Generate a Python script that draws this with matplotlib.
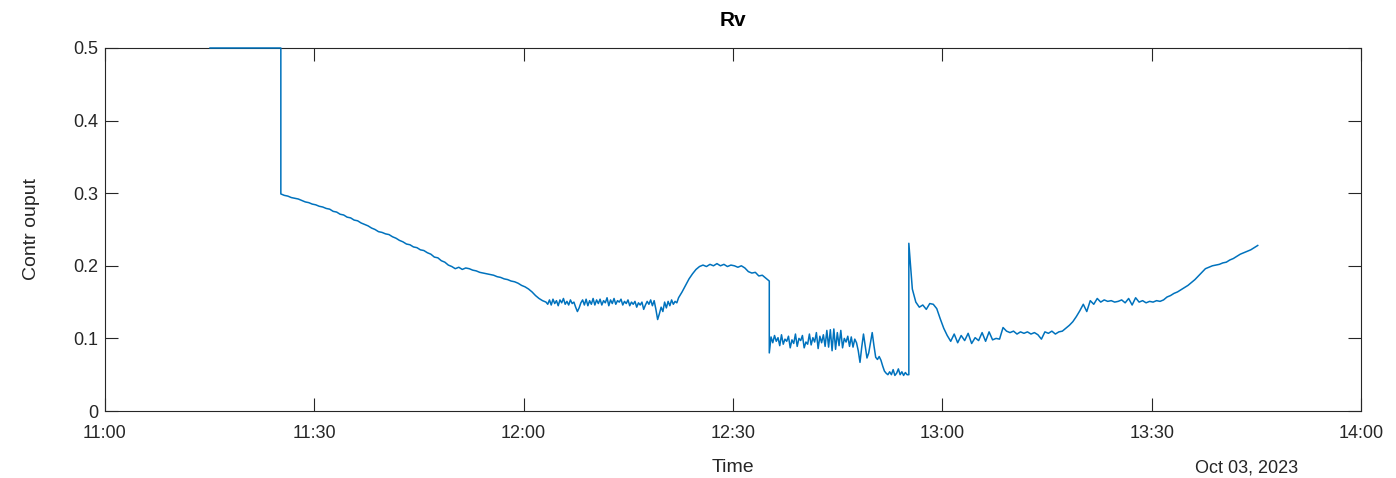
#!/usr/bin/env python3
"""Rv controller output on Oct 03, 2023 (MATLAB-style time plot)."""

import matplotlib

matplotlib.use("Agg")
import matplotlib.dates as mdates
import matplotlib.pyplot as plt
import pandas as pd

DAY = pd.Timestamp("2023-10-03 11:00")

# saturated part at the top of the axis (minutes after 11:00)
hold_min = [15.05, 25.2]
hold_val = [0.5, 0.5]

# slow decline after the step down, 0.5 min samples
seg_b1_start, seg_b1_step = 25.2, 0.5
seg_b1_val = [
    0.299, 0.297, 0.296, 0.294, 0.293, 0.292, 0.290, 0.288, 0.287, 0.285,
    0.284, 0.282, 0.281, 0.279, 0.278, 0.275, 0.274, 0.271, 0.270, 0.267,
    0.266, 0.263, 0.262, 0.259, 0.257, 0.255, 0.252, 0.250, 0.247, 0.246,
    0.244, 0.243, 0.240, 0.238, 0.235, 0.233, 0.230, 0.229, 0.226, 0.225,
    0.222, 0.221, 0.218, 0.216, 0.212, 0.211, 0.207, 0.205, 0.201, 0.199,
    0.196, 0.198, 0.195, 0.197, 0.196, 0.194, 0.193, 0.191, 0.190, 0.189,
    0.188, 0.187, 0.185, 0.184, 0.182, 0.181, 0.179, 0.178, 0.176, 0.173,
    0.171, 0.168, 0.164, 0.159, 0.155, 0.152,
]

# noisy plateau around 0.15, 0.25 min samples
seg_b2_start, seg_b2_step = 63.2, 0.25
seg_b2_val = [
    0.150, 0.147, 0.153, 0.146, 0.154, 0.148, 0.152, 0.145, 0.153, 0.149,
    0.155, 0.147, 0.151, 0.146, 0.153, 0.148, 0.150, 0.143, 0.137, 0.142,
    0.149, 0.153, 0.146, 0.154, 0.145, 0.152, 0.147, 0.155, 0.146, 0.153,
    0.148, 0.154, 0.146, 0.152, 0.149, 0.156, 0.145, 0.153, 0.148, 0.155,
    0.147, 0.152, 0.150, 0.154, 0.146, 0.151, 0.148, 0.153, 0.145, 0.150,
    0.147, 0.151, 0.143, 0.149, 0.146, 0.150, 0.140, 0.146, 0.151, 0.147,
    0.153, 0.145, 0.152, 0.140, 0.126, 0.134, 0.143, 0.137, 0.150, 0.142,
    0.151, 0.145, 0.153, 0.147, 0.151, 0.149, 0.156,
]

# ramp up to the 0.2 shelf, 0.5 min samples
seg_b3_start, seg_b3_step = 82.2, 0.5
seg_b3_val = [
    0.156, 0.164, 0.173, 0.182, 0.189, 0.195, 0.199, 0.201, 0.199, 0.202,
    0.200, 0.203, 0.200, 0.202, 0.199, 0.201, 0.200, 0.198, 0.200, 0.197,
    0.192, 0.190, 0.191, 0.186, 0.187, 0.183, 0.179,
]

# noisy low band after the second step down, 0.25 min samples
seg_c_start, seg_c_step = 95.2, 0.25
seg_c_val = [
    0.080, 0.102, 0.094, 0.104, 0.096, 0.101, 0.090, 0.105, 0.092, 0.099,
    0.096, 0.103, 0.087, 0.098, 0.093, 0.106, 0.089, 0.100, 0.097, 0.104,
    0.087, 0.095, 0.092, 0.106, 0.091, 0.101, 0.095, 0.108, 0.086, 0.103,
    0.094, 0.105, 0.089, 0.111, 0.088, 0.112, 0.083, 0.113, 0.085, 0.108,
    0.090, 0.111, 0.087, 0.100, 0.095, 0.103, 0.089, 0.102, 0.088, 0.099,
    0.094, 0.083, 0.067, 0.088, 0.106, 0.090, 0.073, 0.080, 0.094, 0.108,
    0.090, 0.074, 0.071, 0.075, 0.070, 0.062, 0.055, 0.052, 0.050, 0.054,
    0.050, 0.057, 0.049, 0.052, 0.058, 0.050, 0.054, 0.049, 0.053, 0.050,
    0.050,
]

# spike, recovery band and final ramp, 0.5 min samples
seg_d_start, seg_d_step = 115.2, 0.5
seg_d_val = [
    0.231, 0.168, 0.150, 0.143, 0.146, 0.140, 0.148, 0.147, 0.141, 0.127,
    0.114, 0.104, 0.096, 0.106, 0.094, 0.104, 0.097, 0.107, 0.093, 0.101,
    0.097, 0.108, 0.096, 0.109, 0.098, 0.100, 0.099, 0.115, 0.110, 0.108,
    0.110, 0.106, 0.109, 0.107, 0.109, 0.106, 0.108, 0.105, 0.099, 0.109,
    0.107, 0.110, 0.106, 0.109, 0.110, 0.114, 0.118, 0.123, 0.130, 0.138,
    0.147, 0.137, 0.152, 0.147, 0.155, 0.150, 0.153, 0.151, 0.152, 0.150,
    0.151, 0.153, 0.149, 0.155, 0.146, 0.156, 0.150, 0.152, 0.149, 0.151,
    0.150, 0.152, 0.151, 0.153, 0.157, 0.159, 0.162, 0.164, 0.167, 0.170,
    0.173, 0.177, 0.181, 0.186, 0.191, 0.196, 0.198, 0.200, 0.201, 0.202,
    0.204, 0.205, 0.208, 0.210, 0.213, 0.216, 0.218, 0.220, 0.222, 0.225,
    0.228,
]

x_ticks_min = [0, 30, 60, 90, 120, 150, 180]
y_ticks = [0, 0.1, 0.2, 0.3, 0.4, 0.5]
y_tick_labels = ["0", "0.1", "0.2", "0.3", "0.4", "0.5"]

LINE = "#0072BD"
AX = "#262626"
FONT = ["Liberation Sans", "DejaVu Sans"]


def seg_minutes(start, step, vals):
    return [start + step * i for i in range(len(vals))]


def main() -> None:
    plt.rcParams["font.family"] = FONT

    minutes = (
        list(hold_min)
        + seg_minutes(seg_b1_start, seg_b1_step, seg_b1_val)
        + seg_minutes(seg_b2_start, seg_b2_step, seg_b2_val)
        + seg_minutes(seg_b3_start, seg_b3_step, seg_b3_val)
        + seg_minutes(seg_c_start, seg_c_step, seg_c_val)
        + seg_minutes(seg_d_start, seg_d_step, seg_d_val)
    )
    values = list(hold_val) + seg_b1_val + seg_b2_val + seg_b3_val + seg_c_val + seg_d_val
    times = DAY + pd.to_timedelta(minutes, unit="min")

    fig = plt.figure(figsize=(13.96, 4.78), dpi=100)
    ax = fig.add_axes([105 / 1396, 67 / 478, 1256 / 1396, 363 / 478])

    ax.plot(times, values, color=LINE, linewidth=1.1, zorder=3, clip_on=False)

    ax.set_xlim(DAY, DAY + pd.Timedelta(minutes=180))
    ax.set_ylim(0, 0.5)
    ax.set_xticks([DAY + pd.Timedelta(minutes=m) for m in x_ticks_min])
    ax.xaxis.set_major_formatter(mdates.DateFormatter("%H:%M"))
    ax.set_yticks(y_ticks)
    ax.set_yticklabels(y_tick_labels)

    for s in ax.spines.values():
        s.set_color(AX)
        s.set_linewidth(0.8)
    ax.tick_params(direction="in", length=9.5, width=0.8, color=AX, labelcolor=AX,
                   labelsize=13, top=True, right=True)
    ax.tick_params(axis="x", pad=10)
    ax.tick_params(axis="y", pad=5)

    ax.set_title("Rv", fontsize=15, fontweight="bold", color="black", pad=16)
    ax.set_xlabel("Time", fontsize=14, color=AX, labelpad=12)
    ax.set_ylabel("Contr ouput", fontsize=14, color=AX, labelpad=24)
    fig.text(1247 / 1396, 1 - 468 / 478, "Oct 03, 2023", fontsize=13, color=AX,
             ha="center", va="center")

    fig.savefig("out.png", dpi=100)


if __name__ == "__main__":
    main()
